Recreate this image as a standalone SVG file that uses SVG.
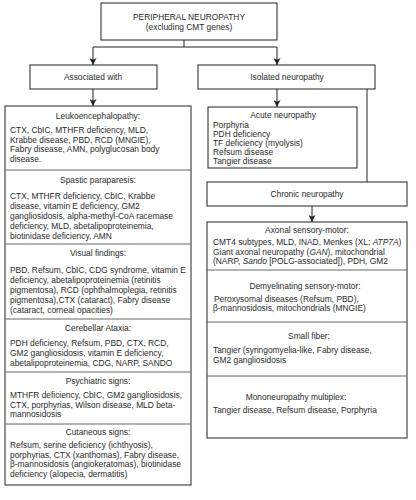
<svg xmlns="http://www.w3.org/2000/svg" width="416" height="500" viewBox="0 0 416 500">
<style>
text{font-family:"Liberation Sans",Arial,sans-serif;font-size:8.4px;fill:#2a2a2a}
.c{text-anchor:middle}
.box{fill:#fff;stroke:#222;stroke-width:1}
.div{stroke:#666;stroke-width:1}
.con{stroke:#222;stroke-width:1;fill:none}
.i{font-style:italic}
</style>
<defs>
<marker id="arr" viewBox="0 0 10 10" refX="10" refY="5" markerWidth="7" markerHeight="7" orient="auto" markerUnits="userSpaceOnUse">
<path d="M0,0 L10,5 L0,10 L2.5,5 z" fill="#222"/>
</marker>
</defs>
<rect width="416" height="500" fill="#fff"/>
<g id="connectors">
<path class="con" d="M184,40 V47 M93,47 H277"/>
<path class="con" d="M93,47 V65" marker-end="url(#arr)"/>
<path class="con" d="M277,47 V65" marker-end="url(#arr)"/>
<path class="con" d="M93,89 V106" marker-end="url(#arr)"/>
<path class="con" d="M277,89 V107" marker-end="url(#arr)"/>
<path class="con" d="M367,89 V182"/>
<path class="con" d="M312,206 V222" marker-end="url(#arr)"/>
</g>
<g id="root">
<rect class="box" x="101" y="3" width="176" height="37"/>
<text class="c" x="189" y="20">PERIPHERAL NEUROPATHY</text>
<text class="c" x="189" y="30">(excluding CMT genes)</text>
</g>
<g id="associated">
<rect class="box" x="30" y="65" width="127" height="24"/>
<text class="c" x="93" y="80">Associated with</text>
</g>
<g id="isolated">
<rect class="box" x="198" y="65" width="177" height="24"/>
<text class="c" x="287" y="80">Isolated neuropathy</text>
</g>
<g id="associated-list">
<rect class="box" x="5" y="106" width="186" height="379"/>
<line class="div" x1="5" y1="170" x2="191" y2="170"/>
<line class="div" x1="5" y1="244" x2="191" y2="244"/>
<line class="div" x1="5" y1="319" x2="191" y2="319"/>
<line class="div" x1="5" y1="372" x2="191" y2="372"/>
<line class="div" x1="5" y1="424" x2="191" y2="424"/>
<text class="c" x="98" y="119">Leukoencephalopathy:</text>
<text x="10" y="133">CTX, CbIC, MTHFR deficiency, MLD,</text>
<text x="10" y="142.5">Krabbe disease, PBD, RCD (MNGIE),</text>
<text x="10" y="152">Fabry disease, AMN, polyglucosan body</text>
<text x="10" y="161.5">disease.</text>
<text class="c" x="98" y="183">Spastic paraparesis:</text>
<text x="10" y="199">CTX, MTHFR deficiency, CbIC, Krabbe</text>
<text x="10" y="209">disease, vitamin E deficiency, GM2</text>
<text x="10" y="219">gangliosidosis, alpha-methyl-CoA racemase</text>
<text x="10" y="229">deficiency, MLD, abetalipoproteinemia,</text>
<text x="10" y="239">biotinidase deficiency, AMN</text>
<text class="c" x="98" y="256">Visual findings:</text>
<text x="10" y="273">PBD, Refsum, CbIC, CDG syndrome, vitamin E</text>
<text x="10" y="283">deficiency, abetalipoproteinemia (retinitis</text>
<text x="10" y="293">pigmentosa), RCD (ophthalmoplegia, retinitis</text>
<text x="10" y="303">pigmentosa),CTX (cataract), Fabry disease</text>
<text x="10" y="313">(cataract, corneal opacities)</text>
<text class="c" x="98" y="331">Cerebellar Ataxia:</text>
<text x="10" y="346">PDH deficiency, Refsum, PBD, CTX, RCD,</text>
<text x="10" y="356">GM2 gangliosidosis, vitamin E deficiency,</text>
<text x="10" y="366">abetalipoproteinemia, CDG, NARP, SANDO</text>
<text class="c" x="98" y="384">Psychiatric signs:</text>
<text x="10" y="398">MTHFR deficiency, CbIC, GM2 gangliosidosis,</text>
<text x="10" y="407.5">CTX, porphyrias, Wilson disease, MLD beta-</text>
<text x="10" y="417">mannosidosis</text>
<text class="c" x="98" y="435">Cutaneous signs:</text>
<text x="10" y="448">Refsum, serine deficiency (ichthyosis),</text>
<text x="10" y="457.5">porphyrias, CTX (xanthomas), Fabry disease,</text>
<text x="10" y="467">β-mannosidosis (angiokeratomas), biotinidase</text>
<text x="10" y="476.5">deficiency (alopecia, dermatitis)</text>
</g>
<g id="acute">
<rect class="box" x="208" y="107" width="149" height="61"/>
<text class="c" x="283" y="118">Acute neuropathy</text>
<text x="213" y="127.5">Porphyria</text>
<text x="213" y="136.5">PDH deficiency</text>
<text x="213" y="145.5">TF deficiency (myolysis)</text>
<text x="213" y="154.5">Refsum disease</text>
<text x="213" y="163.5">Tangier disease</text>
</g>
<g id="chronic">
<rect class="box" x="207" y="182" width="200" height="24"/>
<text class="c" x="307" y="197">Chronic neuropathy</text>
</g>
<g id="chronic-list">
<rect class="box" x="207" y="222" width="200" height="216"/>
<line class="div" x1="207" y1="270" x2="407" y2="270"/>
<line class="div" x1="207" y1="322" x2="407" y2="322"/>
<line class="div" x1="207" y1="376" x2="407" y2="376"/>
<text class="c" x="307" y="233">Axonal sensory-motor:</text>
<text x="213" y="245">CMT4 subtypes, MLD, INAD, Menkes (XL; <tspan class="i">ATP7A</tspan>)</text>
<text x="213" y="254.5">Giant axonal neuropathy (<tspan class="i">GAN</tspan>), mitochondrial</text>
<text x="213" y="264">(NARP, <tspan class="i">Sando</tspan> [POLG-associated]), PDH, GM2</text>
<text class="c" x="305" y="289">Demyelinating sensory-motor:</text>
<text x="214" y="301.5">Peroxysomal diseases (Refsum, PBD),</text>
<text x="213" y="311">β-mannosidosis, mitochondrials (MNGIE)</text>
<text class="c" x="309" y="339">Small fiber:</text>
<text x="213" y="353">Tangier (syringomyelia-like, Fabry disease,</text>
<text x="213" y="363">GM2 gangliosidosis</text>
<text class="c" x="296" y="400">Mononeuropathy multiplex:</text>
<text x="213" y="413">Tangier disease, Refsum disease, Porphyria</text>
</g>
</svg>
